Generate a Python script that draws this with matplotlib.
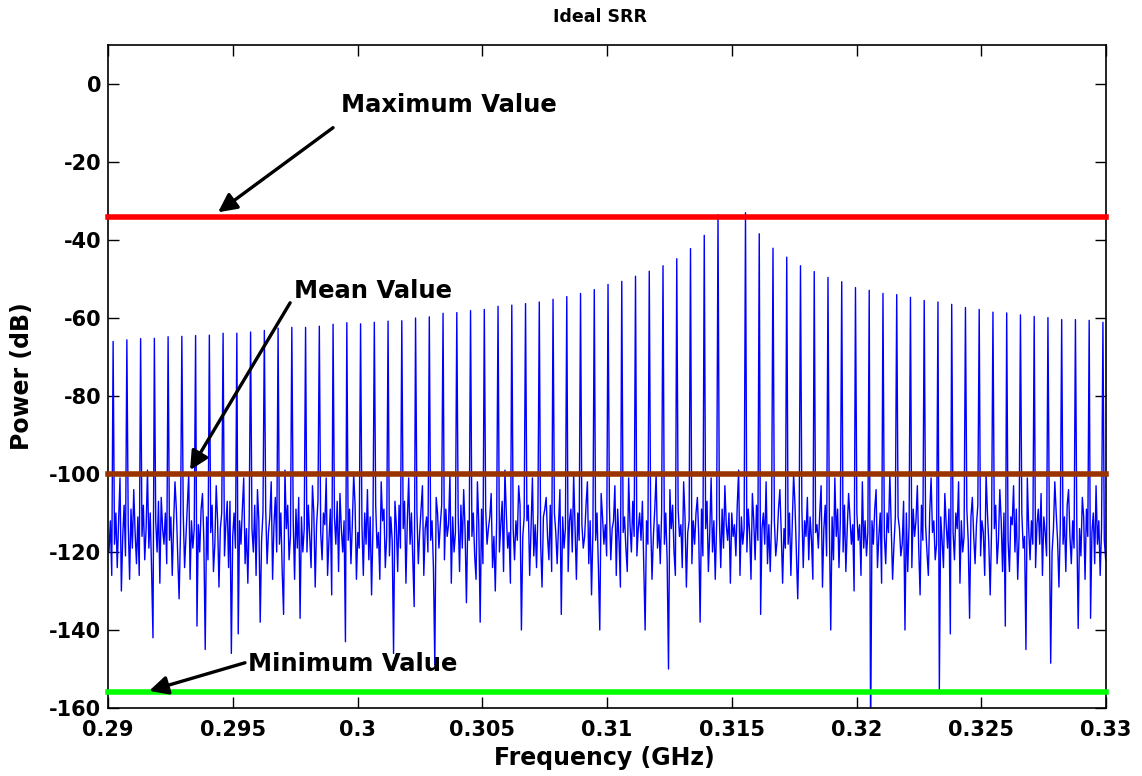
import numpy as np
import matplotlib
matplotlib.use('Agg')
import matplotlib.pyplot as plt

plt.rcParams['font.family'] = ['DejaVu Sans']
plt.rcParams['font.weight'] = 'bold'
plt.rcParams['axes.unicode_minus'] = False

# comb of spectral lines around the carrier (GHz)
centre_ghz = 0.315
line_spacing_ghz = 0.000551
n_below = 45          # lines below the centre, the centre line itself is absent

# height of each main line, left to right (dB), centre slot skipped
peak_db = [-66.0, -65.6, -65.3, -65.2, -64.8, -64.7, -64.5, -64.4, -63.9, -63.9,
           -63.6, -63.2, -62.6, -62.4, -62.4, -62.1, -61.6, -61.2, -61.5, -61.1,
           -60.8, -60.7, -60.0, -59.7, -58.8, -58.6, -58.1, -57.8, -57.0, -56.7,
           -56.3, -55.9, -55.2, -54.5, -53.7, -52.7, -51.4, -50.6, -49.3, -48.0,
           -46.6, -44.8, -42.2, -38.8, -33.5,
           -33.0, -38.4, -42.1, -44.4, -46.6, -48.1, -49.6, -50.7, -52.2, -52.9,
           -53.7, -54.0, -54.7, -55.5, -55.9, -56.5, -57.3, -57.8, -58.5, -58.7,
           -59.2, -59.6, -59.9, -60.4, -60.4, -60.6, -61.1]

# small lines half way between the main ones (dB)
mid_db = [-101, -104, -99, -106, -102, -100, -105, -103, -107, -101,
          -104, -102, -99, -106, -103, -101, -105, -100, -104, -102,
          -107, -101, -103, -106, -100, -104, -102, -105, -99, -103,
          -101, -106, -104, -100, -102, -105, -103, -101, -107, -100,
          -104, -102, -106, -101, -103, -99, -105, -102, -104, -100,
          -106, -103, -101, -105, -102, -104, -100, -107, -103, -101,
          -105, -102, -106, -100, -104, -103, -101, -105, -102, -104,
          -106, -103]

# noise floor between lines, one row per gap (dB)
lead_db = [-120, -112, -126]
centre_gap_db = -110
tail_db = [-117, -122]
noise_db = [
    [-118, -110, -124, -112, -130, -116, -108, -121],
    [-113, -127, -109, -119, -115, -123, -111, -126],
    [-116, -108, -122, -114, -119, -110, -125, -142],
    [-112, -120, -107, -128, -114, -118, -110, -123],
    [-117, -111, -126, -113, -109, -121, -132, -115],
    [-110, -124, -116, -108, -127, -112, -119, -114],
    [-139, -113, -120, -109, -117, -145, -111, -122],
    [-115, -108, -125, -118, -112, -129, -114, -110],
    [-121, -113, -107, -124, -146, -116, -110, -119],
    [-141, -112, -118, -109, -123, -114, -128, -111],
    [-114, -120, -108, -126, -112, -138, -117, -110],
    [-109, -123, -115, -111, -127, -113, -106, -120],
    [-118, -110, -125, -136, -114, -108, -122, -116],
    [-112, -127, -109, -119, -137, -111, -120, -114],
    [-120, -108, -116, -124, -110, -129, -113, -107],
    [-115, -122, -110, -113, -126, -117, -109, -131],
    [-111, -118, -107, -125, -114, -120, -112, -143],
    [-117, -109, -123, -113, -108, -127, -115, -119],
    [-113, -126, -110, -118, -122, -111, -131, -114],
    [-108, -119, -115, -127, -112, -109, -124, -116],
    [-121, -111, -117, -146, -113, -125, -108, -119],
    [-114, -107, -128, -112, -118, -110, -122, -134],
    [-110, -123, -115, -109, -126, -114, -111, -120],
    [-117, -112, -124, -149, -110, -119, -113, -108],
    [-122, -109, -116, -113, -128, -111, -120, -115],
    [-111, -125, -108, -119, -114, -133, -112, -117],
    [-116, -110, -121, -127, -113, -138, -109, -123],
    [-109, -118, -114, -111, -124, -116, -130, -112],
    [-120, -113, -107, -125, -110, -119, -115, -128],
    [-114, -122, -112, -117, -108, -140, -116, -111],
    [-112, -108, -126, -114, -121, -113, -124, -110],
    [-118, -129, -111, -109, -116, -122, -108, -125],
    [-110, -115, -123, -113, -136, -111, -119, -114],
    [-125, -112, -109, -120, -114, -127, -110, -117],
    [-113, -119, -116, -108, -123, -112, -131, -115],
    [-117, -110, -124, -140, -111, -118, -113, -121],
    [-108, -122, -114, -112, -126, -109, -117, -129],
    [-115, -111, -119, -125, -113, -120, -107, -116],
    [-121, -114, -110, -117, -124, -140, -112, -118],
    [-112, -127, -116, -109, -119, -113, -123, -110],
    [-118, -110, -122, -150, -114, -108, -120, -126],
    [-109, -116, -113, -124, -111, -129, -115, -112],
    [-123, -112, -118, -110, -116, -138, -109, -121],
    [-114, -107, -125, -115, -120, -112, -127, -113],
    [-111, -124, -109, -119, -113, -117, -110, -128],
    [-116, -113, -121, -108, -126, -111, -118, -114],
    [-120, -109, -115, -127, -112, -122, -108, -117],
    [-136, -114, -110, -118, -123, -113, -125, -111],
    [-112, -121, -117, -109, -115, -128, -114, -119],
    [-118, -110, -126, -113, -108, -120, -132, -115],
    [-109, -124, -112, -116, -122, -111, -117, -127],
    [-115, -113, -119, -110, -129, -114, -108, -121],
    [-113, -140, -111, -122, -116, -109, -124, -112],
    [-120, -108, -125, -114, -111, -118, -113, -130],
    [-110, -117, -113, -126, -119, -112, -121, -115],
    [-170, -112, -118, -109, -124, -116, -110, -128],
    [-116, -123, -110, -115, -113, -127, -118, -111],
    [-111, -114, -121, -118, -140, -110, -125, -113],
    [-124, -109, -116, -112, -119, -131, -108, -117],
    [-113, -120, -126, -110, -115, -112, -122, -118],
    [-155.5, -111, -117, -124, -113, -119, -109, -141],
    [-115, -122, -110, -114, -128, -112, -120, -116],
    [-109, -117, -137, -111, -116, -123, -113, -108],
    [-121, -112, -115, -126, -110, -118, -131, -114],
    [-114, -108, -123, -117, -112, -125, -110, -139],
    [-117, -125, -111, -113, -120, -109, -127, -116],
    [-110, -119, -116, -145, -114, -122, -112, -118],
    [-124, -113, -109, -118, -126, -111, -115, -121],
    [-112, -148.5, -120, -114, -110, -117, -129, -113],
    [-118, -111, -125, -108, -116, -123, -112, -119],
    [-113, -139.6, -114, -121, -111, -127, -109, -116],
    [-137, -115, -110, -123, -118, -112, -126, -114],
]

max_db = -34
mean_db = -100
min_db = -156

x_ticks = [0.29, 0.295, 0.30, 0.305, 0.31, 0.315, 0.32, 0.325, 0.33]
x_labels = ['0.29', '0.295', '0.3', '0.305', '0.31', '0.315', '0.32', '0.325', '0.33']
y_ticks = [-160, -140, -120, -100, -80, -60, -40, -20, 0]

# assemble the trace: 10 samples per line spacing
n_slots = len(peak_db) + 1
slots = [k for k in range(n_slots) if k != n_below]
peak_for_slot = dict(zip(slots, peak_db))
power = list(lead_db)
for k in range(n_slots):
    power.append(peak_for_slot.get(k, centre_gap_db))
    if k < n_slots - 1:
        row = noise_db[k]
        power.extend(row[:4])
        power.append(mid_db[k])
        power.extend(row[4:])
power.extend(tail_db)
power = np.array(power, dtype=float)
m = np.arange(len(power)) - len(lead_db)
freq = centre_ghz + (m / 10.0 - n_below) * line_spacing_ghz

fig = plt.figure(figsize=(11.42, 7.76), dpi=100)
ax = fig.add_axes([108 / 1142, 1 - 708 / 776, 998 / 1142, 663 / 776])

ax.plot(freq, power, color='#0000ff', lw=1.0)

for level, col in [(max_db, '#ff0000'), (mean_db, '#993300'), (min_db, '#00ff00')]:
    ax.plot([0.29, 0.33], [level, level], color=col, lw=4.0,
            solid_capstyle='projecting', clip_on=False, zorder=3)

ax.set_xlim(0.29, 0.33)
ax.set_ylim(-160, 10)
ax.set_xticks(x_ticks)
ax.set_xticklabels(x_labels)
ax.set_yticks(y_ticks)
ax.tick_params(direction='in', length=8, width=1, top=True, right=True,
               labelsize=15)
ax.tick_params(axis='x', pad=9)
ax.tick_params(axis='y', pad=5)
for s in ax.spines.values():
    s.set_linewidth(1.2)

arrow = dict(arrowstyle='-|>', color='black', lw=2.4, mutation_scale=28,
             shrinkA=0, shrinkB=0)
ax.annotate('', xy=(0.29441, -32.9), xytext=(0.29902, -11.2), arrowprops=arrow, zorder=5)
ax.text(0.29934, -5.5, 'Maximum Value', fontsize=17.5, fontweight='bold',
        ha='left', va='center')
ax.annotate('', xy=(0.29329, -99.0), xytext=(0.29730, -56.1), arrowprops=arrow, zorder=5)
ax.text(0.29746, -53.0, 'Mean Value', fontsize=17.5, fontweight='bold',
        ha='left', va='center')
ax.annotate('', xy=(0.29165, -155.6), xytext=(0.29549, -148.4), arrowprops=arrow, zorder=5)
ax.text(0.29561, -148.8, 'Minimum Value', fontsize=17.5, fontweight='bold',
        ha='left', va='center')

fig.text(600 / 1142, 1 - 17 / 776, 'Ideal SRR', fontsize=12.5, fontweight='bold',
         ha='center', va='center')
fig.text(604 / 1142, 1 - 758 / 776, 'Frequency (GHz)', fontsize=17, fontweight='bold',
         ha='center', va='center')
fig.text(22 / 1142, 1 - 376 / 776, 'Power (dB)', fontsize=17, fontweight='bold',
         ha='center', va='center', rotation=90)

fig.savefig('out.png', dpi=100)
